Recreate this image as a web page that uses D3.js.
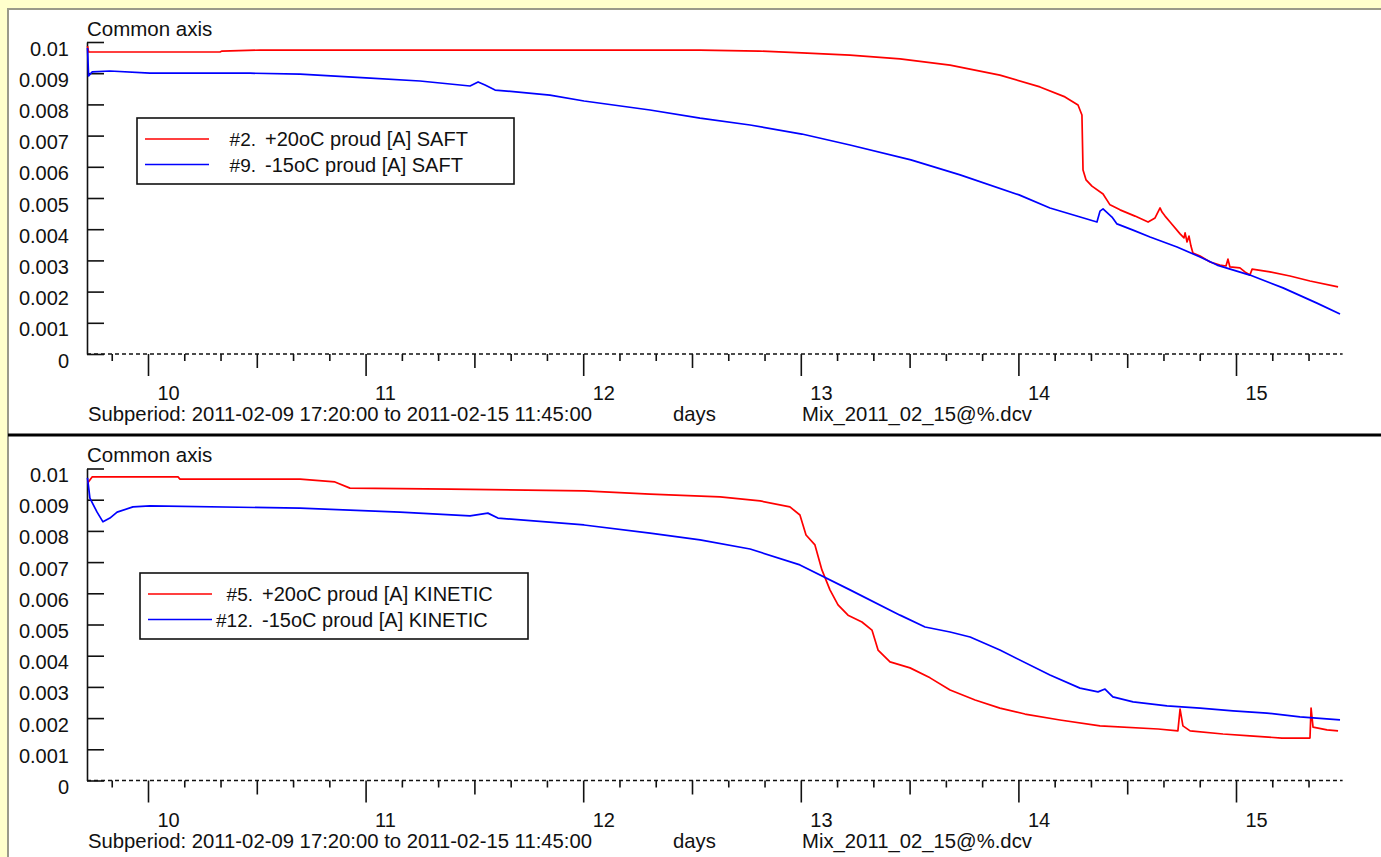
<!DOCTYPE html>
<html>
<head>
<meta charset="utf-8">
<script src="https://cdn.jsdelivr.net/npm/d3@7"></script>
<style>
  body { margin: 0; background: #ffffcc; }
  svg { display: block; font-family: "Liberation Sans", Arial, sans-serif; }
</style>
</head>
<body>
<svg id="chart" width="1381" height="857"></svg>
<script>
// time in days of Feb 2011, current in A
const startDay = 9.722;   // 2011-02-09 17:20
const endDay = 15.49;     // 2011-02-15 11:45
const dayTicks = [10, 11, 12, 13, 14, 15];
const yTicks = [0, 0.001, 0.002, 0.003, 0.004, 0.005, 0.006, 0.007, 0.008, 0.009, 0.01];
const yTickLabels = ['0', '0.001', '0.002', '0.003', '0.004', '0.005', '0.006', '0.007', '0.008', '0.009', '0.01'];
const footerText = ['Subperiod: 2011-02-09 17:20:00 to 2011-02-15 11:45:00', 'days', 'Mix_2011_02_15@%.dcv'];

const saft20 = [
  [9.722, 0.00987], [9.727, 0.00968], [10.331, 0.00968], [10.34, 0.00971], [10.515, 0.00974],
  [11.893, 0.00974], [12.537, 0.00974], [12.81, 0.00971], [13.005, 0.00965], [13.226, 0.00958],
  [13.456, 0.00946], [13.686, 0.00926], [13.915, 0.00894], [14.099, 0.00856], [14.214, 0.00824],
  [14.274, 0.00798], [14.292, 0.00766], [14.297, 0.0059], [14.311, 0.00558], [14.338, 0.00538],
  [14.389, 0.00513], [14.421, 0.00478], [14.467, 0.00462], [14.536, 0.00442], [14.596, 0.00423],
  [14.628, 0.00436], [14.651, 0.00468], [14.66, 0.00455], [14.674, 0.00442], [14.697, 0.00423],
  [14.743, 0.00385], [14.761, 0.00372], [14.766, 0.00388], [14.775, 0.00359], [14.784, 0.00378],
  [14.793, 0.00346], [14.802, 0.00324], [14.835, 0.00314], [14.881, 0.00295], [14.926, 0.00285],
  [14.954, 0.00282], [14.963, 0.00304], [14.972, 0.00279], [15.018, 0.00276], [15.041, 0.00263],
  [15.064, 0.00253], [15.074, 0.00272], [15.156, 0.00263], [15.248, 0.0025], [15.34, 0.00234],
  [15.469, 0.00215]
];
const saftM15 = [
  [9.722, 0.00981], [9.727, 0.00891], [9.743, 0.00904], [9.825, 0.00907], [10.009, 0.009],
  [10.469, 0.009], [10.699, 0.00897], [11.002, 0.00885], [11.25, 0.00875], [11.48, 0.00859],
  [11.517, 0.00872], [11.549, 0.00862], [11.595, 0.00846], [11.847, 0.0083], [12.004, 0.00811],
  [12.307, 0.00782], [12.537, 0.00756], [12.767, 0.00734], [13.005, 0.00705], [13.226, 0.0067],
  [13.506, 0.00622], [13.732, 0.00574], [14.003, 0.0051], [14.145, 0.00468], [14.361, 0.00423],
  [14.375, 0.00458], [14.389, 0.00465], [14.43, 0.00439], [14.453, 0.00417], [14.527, 0.00397],
  [14.605, 0.00375], [14.729, 0.00343], [14.835, 0.00311], [14.913, 0.00285], [15.064, 0.00253],
  [15.216, 0.00212], [15.372, 0.00163], [15.478, 0.00128]
];
const kin20 = [
  [9.722, 0.00953], [9.743, 0.00973], [10.138, 0.00973], [10.147, 0.00966], [10.699, 0.00966],
  [10.859, 0.00957], [10.928, 0.00937], [11.388, 0.00934], [12.004, 0.00928], [12.307, 0.00918],
  [12.629, 0.00909], [12.813, 0.00896], [12.95, 0.00877], [12.996, 0.00851], [13.024, 0.00787],
  [13.065, 0.00755], [13.097, 0.00675], [13.134, 0.00611], [13.171, 0.00563], [13.217, 0.0053],
  [13.281, 0.00508], [13.327, 0.00482], [13.355, 0.00418], [13.41, 0.0038], [13.502, 0.00361],
  [13.594, 0.00329], [13.686, 0.0029], [13.801, 0.00258], [13.915, 0.00232], [14.03, 0.00213],
  [14.191, 0.00194], [14.375, 0.00175], [14.642, 0.00165], [14.733, 0.00159], [14.743, 0.00229],
  [14.756, 0.00175], [14.789, 0.00159], [14.94, 0.00149], [15.064, 0.00143], [15.211, 0.00136],
  [15.34, 0.00136], [15.345, 0.00232], [15.354, 0.00171], [15.418, 0.00162], [15.469, 0.00159]
];
const kinM15 = [
  [9.722, 0.0097], [9.733, 0.00905], [9.766, 0.0086], [9.793, 0.00829], [9.825, 0.00841],
  [9.858, 0.0086], [9.931, 0.00877], [10.009, 0.0088], [10.699, 0.00873], [11.158, 0.0086],
  [11.48, 0.00848], [11.562, 0.00857], [11.608, 0.00841], [12.004, 0.00819], [12.307, 0.00793],
  [12.537, 0.00771], [12.767, 0.00742], [12.996, 0.00691], [13.226, 0.00611], [13.456, 0.0053],
  [13.571, 0.00492], [13.686, 0.00476], [13.778, 0.0046], [13.915, 0.00418], [14.145, 0.00338],
  [14.283, 0.00296], [14.366, 0.00284], [14.398, 0.00293], [14.434, 0.00268], [14.527, 0.00252],
  [14.683, 0.00239], [14.835, 0.00232], [14.986, 0.00223], [15.142, 0.00216], [15.294, 0.00204],
  [15.478, 0.00194]
];

const panels = [
  { offset: 0, legendY: 118, legendX: 137, legendW: 377, mainX: 265,
    series: [
      { prefix: '#2.', name: '+20oC proud [A] SAFT', color: '#ff0000', data: saft20 },
      { prefix: '#9.', name: '-15oC proud [A] SAFT', color: '#0000ff', data: saftM15 }
    ] },
  { offset: 426.5, legendY: 573 - 426.5, legendX: 140, legendW: 388, mainX: 262,
    series: [
      { prefix: '#5.', name: '+20oC proud [A] KINETIC', color: '#ff0000', data: kin20 },
      { prefix: '#12.', name: '-15oC proud [A] KINETIC', color: '#0000ff', data: kinM15 }
    ] }
];

const svg = d3.select('#chart');

// white sheet with grey edge
svg.append('rect').attr('x', 8).attr('y', 9).attr('width', 1381).attr('height', 857)
  .attr('fill', '#fff').attr('stroke', '#9a9a8a').attr('stroke-width', 2);

const x = d3.scaleLinear().domain([10, 15]).range([148, 1236]);
const y = d3.scaleLinear().domain([0, 0.01]).range([354, 42]);
const axisX = 87;

// 4-hour ticks
const minorTicks = [];
for (let k = Math.ceil(startDay * 6); k <= Math.floor(endDay * 6); k++) {
  if (k % 6 !== 0) minorTicks.push(k / 6);
}
const halfTicks = minorTicks.filter(d => Math.abs(d * 2 - Math.round(d * 2)) < 1e-6);
const shortTicks = minorTicks.filter(d => Math.abs(d * 2 - Math.round(d * 2)) >= 1e-6);

panels.forEach(p => {
  const g = svg.append('g').attr('transform', `translate(0,${p.offset})`);

  g.append('text').attr('x', 87).attr('y', 35.5).attr('font-size', 20.5).attr('fill', '#111')
    .text('Common axis');

  // y axis
  const yAxis = g.append('g').attr('transform', `translate(${axisX},0)`)
    .call(d3.axisLeft(y).tickValues(yTicks).tickSize(-17).tickSizeOuter(0).tickPadding(18)
      .tickFormat((d, i) => yTickLabels[i]));
  yAxis.select('.domain').attr('stroke', '#111').attr('stroke-width', 1.6);
  yAxis.selectAll('.tick line').attr('stroke', '#111').attr('stroke-width', 1.6);
  yAxis.selectAll('.tick text').attr('font-size', 20).attr('fill', '#111')
    .attr('font-family', null).attr('dy', 13);
  yAxis.attr('font-family', null);

  // dashed baseline
  g.append('line').attr('x1', axisX).attr('x2', x(endDay)).attr('y1', y(0)).attr('y2', y(0))
    .attr('stroke', '#111').attr('stroke-width', 1.6).attr('stroke-dasharray', '4,3');

  const tickSets = [
    { values: dayTicks, size: 22, labels: true },
    { values: halfTicks, size: 14, labels: false },
    { values: shortTicks, size: 7, labels: false }
  ];
  tickSets.forEach(t => {
    const ax = g.append('g').attr('transform', `translate(0,${y(0)})`)
      .call(d3.axisBottom(x).tickValues(t.values).tickSize(t.size).tickPadding(10)
        .tickFormat(t.labels ? d3.format('d') : ''));
    ax.select('.domain').remove();
    ax.attr('font-family', null);
    ax.selectAll('.tick line').attr('stroke', '#111').attr('stroke-width', 1.6);
    ax.selectAll('.tick text').attr('font-size', 20).attr('fill', '#111')
      .attr('text-anchor', 'start').attr('x', 9).attr('dy', '0.71em');
  });

  // footer
  const footX = [88, 673, 802];
  footerText.forEach((s, i) => {
    g.append('text').attr('x', footX[i]).attr('y', 421).attr('font-size', 20.3).attr('fill', '#111').text(s);
  });

  // series
  const line = d3.line().x(d => x(d[0])).y(d => y(d[1]));
  p.series.forEach(s => {
    g.append('path').datum(s.data).attr('d', line).attr('fill', 'none')
      .attr('stroke', s.color).attr('stroke-width', 1.7).attr('stroke-linejoin', 'round');
  });

  // legend
  const lg = g.append('g').attr('transform', `translate(${p.legendX},${p.legendY})`);
  lg.append('rect').attr('width', p.legendW).attr('height', 66)
    .attr('fill', '#fff').attr('stroke', '#111').attr('stroke-width', 1.6);
  p.series.forEach((s, i) => {
    const ly = 21 + i * 25.5;
    lg.append('line').attr('x1', 8).attr('x2', 72).attr('y1', ly).attr('y2', ly)
      .attr('stroke', s.color).attr('stroke-width', 1.7);
    lg.append('text').attr('x', p.mainX - p.legendX - 9).attr('y', ly + 7).attr('font-size', 19)
      .attr('fill', '#111').attr('text-anchor', 'end').text(s.prefix);
    lg.append('text').attr('x', p.mainX - p.legendX).attr('y', ly + 7).attr('font-size', 20)
      .attr('fill', '#111').text(s.name);
  });
});

// separator between the two panels
svg.append('line').attr('x1', 8).attr('x2', 1381).attr('y1', 435).attr('y2', 435)
  .attr('stroke', '#000').attr('stroke-width', 3);
</script>
</body>
</html>
